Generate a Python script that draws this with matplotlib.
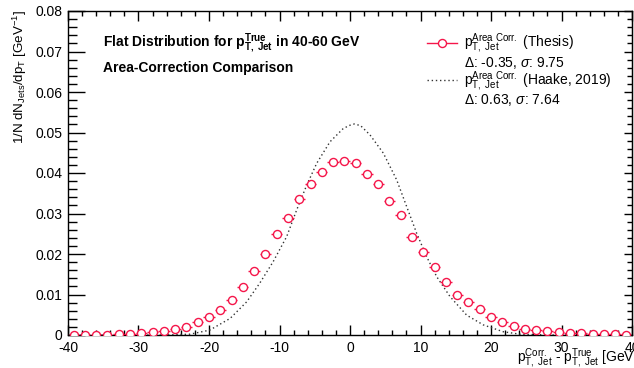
import matplotlib
matplotlib.use("Agg")
import matplotlib.pyplot as plt
from matplotlib.lines import Line2D
from matplotlib.ticker import MultipleLocator, FuncFormatter
import numpy as np

plt.rcParams['font.family'] = ['Liberation Sans', 'DejaVu Sans']
plt.rcParams['mathtext.fontset'] = 'custom'
plt.rcParams['mathtext.rm'] = 'Liberation Sans'
plt.rcParams['mathtext.it'] = 'Liberation Sans:italic'
plt.rcParams['mathtext.bf'] = 'Liberation Sans:bold'
plt.rcParams['axes.unicode_minus'] = False

# ---- data ----
bin_width = 1.6
bin_centers = [-39.2 + 1.6 * i for i in range(50)]
thesis_values = [
    0.0000, 0.0000, 0.0000, 0.0001, 0.0002, 0.0002, 0.0004, 0.0007, 0.0010, 0.0015,
    0.0020, 0.0031, 0.0044, 0.0061, 0.0087, 0.0119, 0.0157, 0.0200, 0.0249, 0.0288,
    0.0337, 0.0374, 0.0402, 0.0426, 0.0430, 0.0424, 0.0397, 0.0372, 0.0332, 0.0296,
    0.0243, 0.0205, 0.0168, 0.0131, 0.0100, 0.0081, 0.0063, 0.0044, 0.0031, 0.0023,
    0.0015, 0.0012, 0.0009, 0.0007, 0.0005, 0.0004, 0.0002, 0.0002, 0.0002, 0.0001,
]
haake_x = [-40, -26, -22.7, -19.9, -17.0, -14.65, -12.8, -10.9, -8.98, -7.56, -6.14,
           -4.72, -2.84, -0.95, 0.0, 0.6, 1.5, 2.84, 4.73, 6.62, 8.04, 9.46, 10.88,
           12.3, 14.18, 16.55, 18.9, 21.75, 24.1, 28, 40]
haake_y = [0.0, 0.0, 0.0002, 0.0012, 0.0041, 0.0082, 0.0128, 0.0181, 0.0243, 0.0309, 0.0370,
           0.0424, 0.0477, 0.0510, 0.0518, 0.0521, 0.0517, 0.0494, 0.0449, 0.0383, 0.0317,
           0.0251, 0.0193, 0.0144, 0.0095, 0.0049, 0.0025, 0.0008, 0.0002, 0.0, 0.0]

red = '#f5164a'

fig = plt.figure(figsize=(6.34, 3.68), dpi=100)
ax = fig.add_axes([68/634, 1 - 335/368, 564/634, 324/368])

ax.plot(haake_x, haake_y, linestyle=(0, (1, 2)), color='#333333', linewidth=1.0, zorder=2)
ax.errorbar(bin_centers, thesis_values, xerr=bin_width / 2, fmt='o', color=red,
            mfc='white', mec=red, ms=5.8, mew=1.0, elinewidth=1.0, capsize=0, zorder=3)

ax.set_xlim(-40, 40)
ax.set_ylim(0, 0.08)
ax.xaxis.set_major_locator(MultipleLocator(10))
ax.xaxis.set_minor_locator(MultipleLocator(2))
ax.yaxis.set_major_locator(MultipleLocator(0.01))
ax.yaxis.set_minor_locator(MultipleLocator(0.002))
ax.yaxis.set_major_formatter(FuncFormatter(lambda v, p: '0' if abs(v) < 1e-9 else f'{v:.2f}'))
ax.xaxis.set_major_formatter(FuncFormatter(lambda v, p: f'{v:.0f}'))

ax.tick_params(axis='x', which='major', direction='in', length=7.5, width=1.0,
               top=True, labelsize=10, pad=4)
ax.tick_params(axis='x', which='minor', direction='in', length=3.8, width=1.0, top=True)
ax.tick_params(axis='y', which='major', direction='in', length=12, width=1.0,
               labelsize=10, pad=4)
ax.tick_params(axis='y', which='minor', direction='in', length=6.5, width=1.0)
for s in ax.spines.values():
    s.set_linewidth(1.0)

sec = ax.secondary_yaxis('right')
sec.yaxis.set_major_locator(MultipleLocator(0.01))
sec.yaxis.set_minor_locator(MultipleLocator(0.002))
sec.tick_params(which='major', direction='in', length=6, width=1.0, labelright=False)
sec.tick_params(which='minor', direction='in', length=3.5, width=1.0)

# axis titles
ax.text(1.011, -0.037,
        r'$\mathrm{p}^{\mathrm{Corr.}}_{\mathrm{T,\ Jet}}$ - $\mathrm{p}^{\mathrm{True}}_{\mathrm{T,\ Jet}}$ [GeV]',
        transform=ax.transAxes, ha='right', va='top', fontsize=10)
fig.text(19.5/634, 1 - 10/368,
         r'1/N dN$_{\mathrm{Jets}}$/dp$_{\mathrm{T}}$ [GeV$^{\mathrm{-1}}$]',
         rotation=90, ha='center', va='top', fontsize=9.6)

# annotation text
ax.text(0.062, 0.889,
        r'Flat Distribution for $\mathbf{p}^{\mathbf{True}}_{\mathbf{T,\ Jet}}$ in 40-60 GeV',
        transform=ax.transAxes, ha='left', va='baseline', fontsize=10, fontweight='bold')
ax.text(0.062, 0.812, 'Area-Correction Comparison',
        transform=ax.transAxes, ha='left', va='baseline', fontsize=10, fontweight='bold')

# legend
h1 = Line2D([], [], color=red, marker='o', mfc='white', mec=red, ms=5.8, mew=1.0, lw=1.0)
h3 = Line2D([], [], color='#333333', linestyle=(0, (1, 2)), lw=1.0)
hblank = Line2D([], [], color='none', lw=0)
labels = [
    r'$\mathrm{p}^{\mathrm{Area\ Corr.}}_{\mathrm{T,\ Jet}}$ (Thesis)',
    r'Δ: -0.35, $\sigma$: 9.75',
    r'$\mathrm{p}^{\mathrm{Area\ Corr.}}_{\mathrm{T,\ Jet}}$ (Haake, 2019)',
    r'Δ: 0.63, $\sigma$: 7.64',
]
leg = ax.legend([h1, hblank, h3, hblank], labels, loc='upper left',
                bbox_to_anchor=(0.6365, 0.935), frameon=False, fontsize=10,
                handlelength=2.16, handletextpad=0.5, borderpad=0, borderaxespad=0,
                labelspacing=-0.1)

fig.savefig('out.png', dpi=100)
